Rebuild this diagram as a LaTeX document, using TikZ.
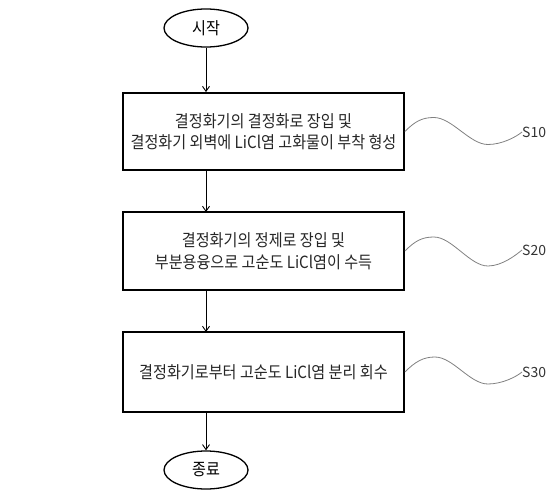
\documentclass[tikz,border=0pt]{standalone}
\usepackage{fontspec}
\setmainfont[FakeStretch=0.9]{Noto Sans CJK KR}
\newfontfamily\tagfont{Noto Sans CJK KR}
\usetikzlibrary{arrows.meta,shapes.geometric}
\begin{document}
\begin{tikzpicture}[x=1pt,y=-1pt,
  term/.style={draw,line width=1.3pt,ellipse,minimum width=84pt,minimum height=38pt,inner sep=0pt,font=\fontsize{16.8}{18}\selectfont},
  stepbox/.style={draw,line width=1.8pt,minimum width=281pt,inner sep=0pt,align=center,text=black!85,font=\fontsize{16.8}{21.5}\selectfont},
  flow/.style={line width=0.9pt,-{Straight Barb[length=5pt,width=7pt,line width=0.9pt]}},
  wave/.style={draw=gray,line width=0.8pt},
  tag/.style={anchor=west,inner sep=0pt,text=black!80,font=\tagfont\fontsize{14}{16}\selectfont}]
\useasboundingbox (0,0) rectangle (556,492);
\node[term] (start) at (206,28) {시작};
\node[stepbox,minimum height=77pt] (s1) at (263.5,131.5) {결정화기의 결정화로 장입 및\\결정화기 외벽에 LiCl염 고화물이 부착 형성};
\node[stepbox,minimum height=78pt] (s2) at (263.5,251) {결정화기의 정제로 장입 및\\부분용융으로 고순도 LiCl염이 수득};
\node[stepbox,minimum height=80pt] (s3) at (263.5,372) {결정화기로부터 고순도 LiCl염 분리 회수};
\node[term] (end) at (206,470) {종료};
\draw[flow] (start.south) -- (start.south |- s1.north);
\draw[flow] (206,170.5) -- (206,212);
\draw[flow] (206,290) -- (206,332);
\draw[flow] (206,412) -- (end.north);
\node[tag] (t1) at (522,132) {S10};
\node[tag] (t2) at (522,250) {S20};
\node[tag] (t3) at (522,372) {S30};
\draw[wave] (s1.east) .. controls +(10,-10) and +(-12,0) .. +(29,-14) .. controls +(18,0) and +(-18,0) .. +(83,13) .. controls +(14,0) and +(-6,5) .. (t1.west);
\draw[wave] (s2.east) .. controls +(10,-10) and +(-12,0) .. +(29,-14) .. controls +(18,0) and +(-18,0) .. +(83,15) .. controls +(14,0) and +(-6,5) .. (t2.west);
\draw[wave] (s3.east) .. controls +(10,-10) and +(-12,0) .. +(30,-15) .. controls +(18,0) and +(-18,0) .. +(83,12) .. controls +(14,0) and +(-6,5) .. (t3.west);
\end{tikzpicture}
\end{document}
